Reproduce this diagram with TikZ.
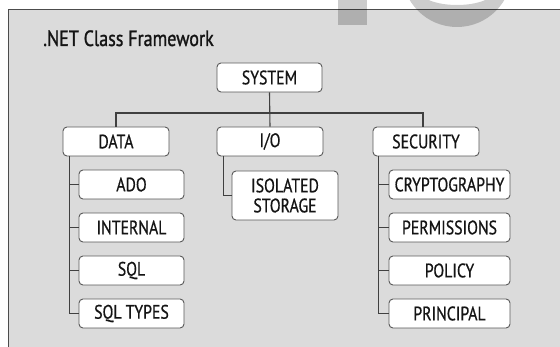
\documentclass[tikz,border=0pt]{standalone}
\usepackage{fontspec}
\setmainfont[FakeStretch=0.81,FakeBold=0.6]{PT Sans}
\newfontfamily\titlefont[FakeStretch=0.82,FakeBold=1.2]{PT Sans}
\begin{document}
\begin{tikzpicture}[x=1pt,y=1pt,
  box/.style={draw=black!65, line width=0.9pt, fill=white, rounded corners=4pt,
    inner sep=0pt, align=center, text=black!92,
    font=\fontsize{19.5}{20}\selectfont},
  conn/.style={draw=black!75, line width=1.1pt},
  wm/.style={fill=black, fill opacity=0.2}]
\useasboundingbox (0,0) rectangle (560,-347);
\fill[white] (0,0) rectangle (560,-347);
% panel
\fill[black!14] (8,-10) rectangle (561,-348);
\draw[black!70, line width=1pt] (561,-10) -- (8,-10) -- (8,-348);
% watermark
\begin{scope}
\clip (0,0) rectangle (560,-347);
\fill[wm] (338,0) rectangle (367,-25);
\fill[wm, even odd rule] (457,28) circle (55) (457,10) ellipse (38 and 15);
\end{scope}
% title
\node[anchor=base west, inner sep=0pt, text=black!92, font=\titlefont\fontsize{22}{24}\selectfont] (title) at (43,-46) {.NET Class Framework};
% nodes
\node[box, minimum width=105, minimum height=29] (system) at (269.5,-77.5) {SYSTEM};
\node[box, minimum width=106, minimum height=29] (data) at (116,-141.5) {DATA};
\node[box, minimum width=106, minimum height=29] (io) at (270,-141.5) {I/O};
\node[box, minimum width=106, minimum height=29] (security) at (426,-141.5) {SECURITY};
\node[box, minimum width=105, minimum height=29] (ado) at (131.5,-184.5) {ADO};
\node[box, minimum width=105, minimum height=29] (internal) at (131.5,-227.5) {INTERNAL};
\node[box, minimum width=105, minimum height=29] (sql) at (131.5,-270.5) {SQL};
\node[box, minimum width=105, minimum height=29] (sqltypes) at (131.5,-313.5) {SQL TYPES};
\node[box, minimum width=106, minimum height=49] (iso) at (285,-195.5) {ISOLATED\\[0pt]STORAGE};
\node[box, minimum width=121, minimum height=29] (crypto) at (449.5,-184.5) {CRYPTOGRAPHY};
\node[box, minimum width=121, minimum height=29] (perm) at (449.5,-227.5) {PERMISSIONS};
\node[box, minimum width=121, minimum height=29] (policy) at (449.5,-270.5) {POLICY};
\node[box, minimum width=121, minimum height=29] (principal) at (449.5,-313.5) {PRINCIPAL};
% connectors
\coordinate (hy) at (0,-113);
\draw[conn] (system.south) -- (io.north);
\draw[conn] (data.north) -- (data.north |- hy) -- ([xshift=-3pt]security.north |- hy) -- ([xshift=-3pt]security.north);
\foreach \c in {ado,internal,sql,sqltypes}
  \draw[conn] ([xshift=7pt]data.south west) |- (\c.west);
\draw[conn] ([xshift=7pt]io.south west) |- (iso.west);
\foreach \c in {crypto,perm,policy,principal}
  \draw[conn] ([xshift=6pt]security.south west) |- (\c.west);
\end{tikzpicture}
\end{document}
